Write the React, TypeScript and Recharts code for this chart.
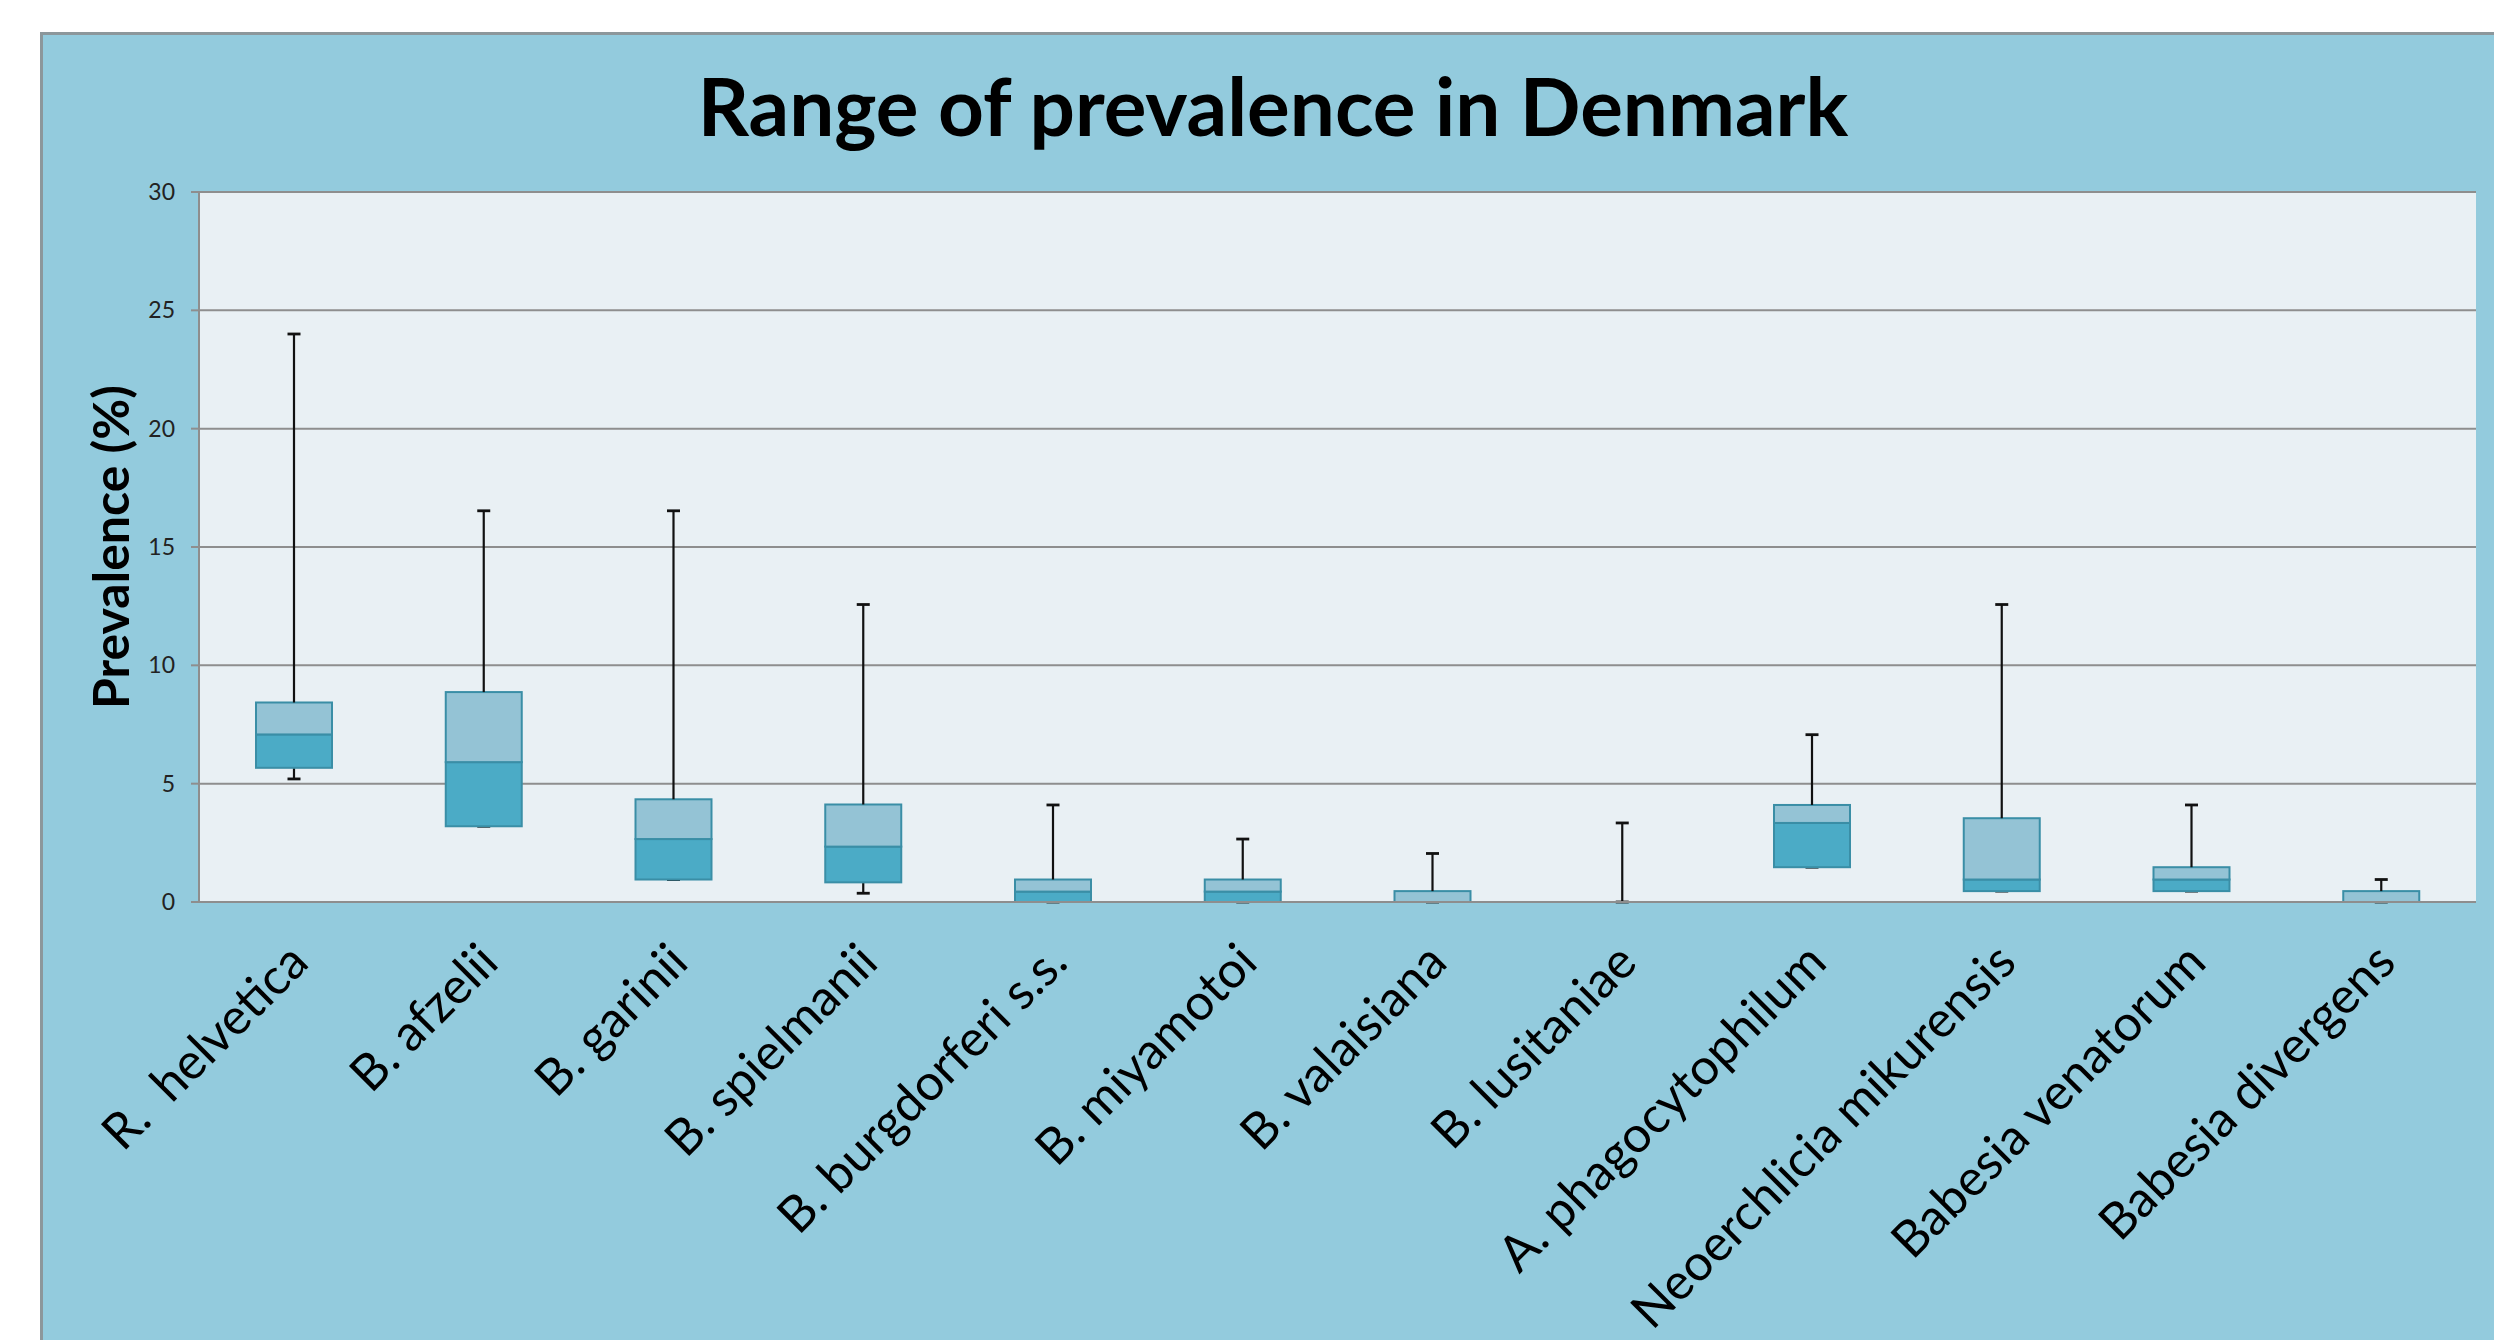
import React from 'react';
import { BarChart, Bar, XAxis, YAxis, CartesianGrid } from 'recharts';

const species = [
  'R.  helvetica',
  'B. afzelii',
  'B. garinii',
  'B. spielmanii',
  'B. burgdorferi s.s.',
  'B. miyamotoi',
  'B. valaisiana',
  'B. lusitaniae',
  'A. phagocytophilum',
  'Neoerchlicia mikurensis',
  'Babesia venatorum',
  'Babesia divergens',
];

const minValues = [5.2, 3.2, 0.95, 0.37, 0, 0, 0, 0, 1.47, 0.46, 0.46, 0];
const q1Values = [5.67, 3.2, 0.95, 0.83, 0, 0, 0, 0, 1.47, 0.46, 0.46, 0];
const medianValues = [7.08, 5.91, 2.66, 2.34, 0.44, 0.44, 0, 0, 3.34, 0.95, 0.95, 0];
const q3Values = [8.43, 8.87, 4.34, 4.12, 0.95, 0.95, 0.46, 0, 4.1, 3.54, 1.47, 0.46];
const maxValues = [24, 16.53, 16.53, 12.57, 4.1, 2.66, 2.05, 3.34, 7.07, 12.57, 4.1, 0.95];

const yTicks = [0, 5, 10, 15, 20, 25, 30];

const rows = species.map((name, i) => ({
  name,
  base: minValues[i],
  lowWhisker: q1Values[i] - minValues[i],
  lowerBox: medianValues[i] - q1Values[i],
  upperBox: q3Values[i] - medianValues[i],
  highWhisker: maxValues[i] - q3Values[i],
}));

const WHISKER = '#111';
const FONT = 'Lato, "Open Sans", sans-serif';

// whisker going up from the box, cap at the top
const HighWhisker = (props: any) => {
  const { x, y, width, height } = props;
  const cx = x + width / 2;
  const top = Math.min(y, y + height);
  const bottom = Math.max(y, y + height);
  return (
    <g>
      <line x1={cx} x2={cx} y1={top} y2={bottom} stroke={WHISKER} strokeWidth={2.2} />
      <line x1={cx - 6.5} x2={cx + 6.5} y1={top} y2={top} stroke={WHISKER} strokeWidth={2.8} />
    </g>
  );
};

// whisker going down from the box, cap at the bottom
const LowWhisker = (props: any) => {
  const { x, y, width, height } = props;
  const cx = x + width / 2;
  const top = Math.min(y, y + height);
  const bottom = Math.max(y, y + height);
  return (
    <g>
      <line x1={cx} x2={cx} y1={top} y2={bottom} stroke={WHISKER} strokeWidth={2.2} />
      <line x1={cx - 6.5} x2={cx + 6.5} y1={bottom} y2={bottom} stroke={WHISKER} strokeWidth={2.8} />
    </g>
  );
};

const BoxPart = (fill: string) => (props: any) => {
  const { x, y, width, height } = props;
  const top = Math.min(y, y + height);
  const h = Math.abs(height);
  return <rect x={x} y={top} width={width} height={h} fill={fill} stroke="#3a8ea6" strokeWidth={2} />;
};

const XTick = (props: any) => {
  const { x, y, payload } = props;
  return (
    <g transform={`translate(${x + 17},${y + 63})`}>
      <text
        x={0}
        y={0}
        textAnchor="end"
        transform="rotate(-45)"
        fontFamily={FONT}
        fontSize={50}
        fill="#000"
        style={{ whiteSpace: 'pre' }}
      >
        {payload.value}
      </text>
    </g>
  );
};

const YLabel = (props: any) => {
  const { viewBox } = props;
  const cx = viewBox.x - 10;
  const cy = viewBox.y + viewBox.height / 2;
  return (
    <text
      x={cx}
      y={cy}
      textAnchor="middle"
      transform={`rotate(-90, ${cx}, ${cy})`}
      fontFamily={FONT}
      fontWeight={700}
      fontSize={50}
      fill="#000"
    >
      Prevalence (%)
    </text>
  );
};

export default function App() {
  return (
    <div style={{ position: 'fixed', left: 0, top: 0, width: 2494, height: 1340, background: '#fff', overflow: 'hidden' }}>
      <div
        style={{
          position: 'absolute',
          left: 40,
          top: 32,
          right: 0,
          bottom: 0,
          background: '#93cbdd',
          borderTop: '3px solid #8c979b',
          borderLeft: '3px solid #8c979b',
        }}
      />
      <div
        style={{
          position: 'absolute',
          left: 273,
          top: 66,
          width: 2000,
          textAlign: 'center',
          fontFamily: FONT,
          fontWeight: 700,
          fontSize: 80,
          lineHeight: '78px',
          color: '#000',
        }}
      >
        Range of prevalence in Denmark
      </div>
      <div style={{ position: 'absolute', left: 0, top: 0 }}>
        <BarChart
          width={2494}
          height={1340}
          data={rows}
          margin={{ top: 192, right: 18, left: 139, bottom: 38 }}
          barSize={76}
        >
          <CartesianGrid vertical={false} fill="#e9f0f4" stroke="#8e8e8e" strokeWidth={2} />
          <XAxis
            dataKey="name"
            height={400}
            interval={0}
            tickLine={false}
            tickSize={0}
            tickMargin={0}
            axisLine={{ stroke: '#8e8e8e', strokeWidth: 2 }}
            tick={<XTick />}
          />
          <YAxis
            width={60}
            domain={[0, 30]}
            ticks={yTicks}
            interval={0}
            tickSize={8}
            tickMargin={16}
            axisLine={{ stroke: '#8e8e8e', strokeWidth: 2 }}
            tickLine={{ stroke: '#8e8e8e', strokeWidth: 2 }}
            tick={{ fontFamily: FONT, fontSize: 23, fill: '#222' }}
            label={<YLabel />}
          />
          <Bar dataKey="base" stackId="box" fill="transparent" isAnimationActive={false} />
          <Bar dataKey="lowWhisker" stackId="box" shape={<LowWhisker />} isAnimationActive={false} />
          <Bar dataKey="lowerBox" stackId="box" shape={BoxPart('#4babc6')} isAnimationActive={false} />
          <Bar dataKey="upperBox" stackId="box" shape={BoxPart('#94c3d5')} isAnimationActive={false} />
          <Bar dataKey="highWhisker" stackId="box" shape={<HighWhisker />} isAnimationActive={false} />
        </BarChart>
      </div>
    </div>
  );
}
